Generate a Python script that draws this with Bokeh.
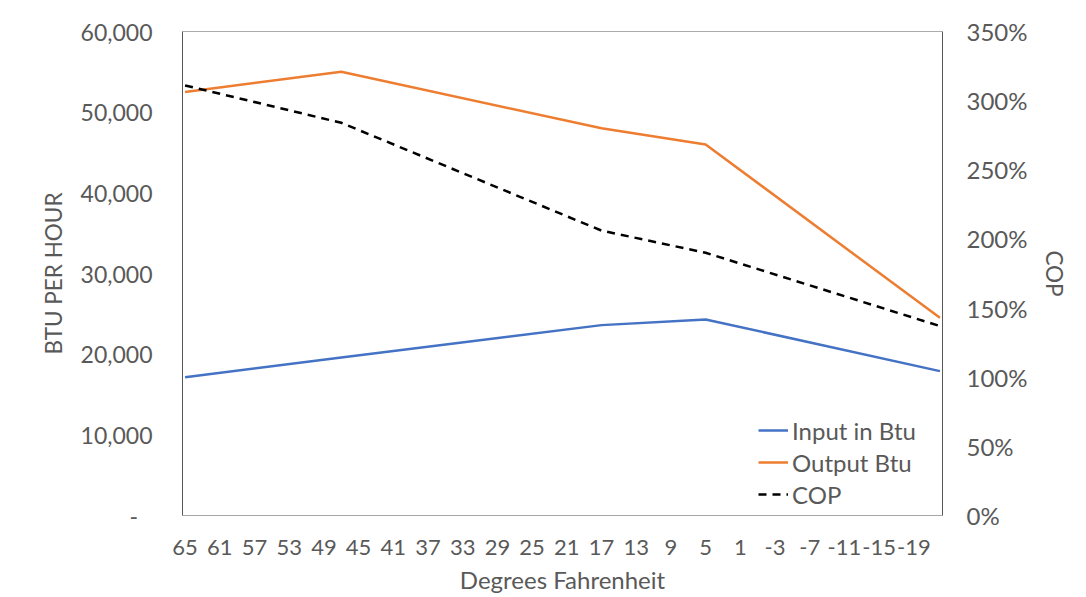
from bokeh.plotting import figure
from bokeh.models import (Range1d, LinearAxis, Span, Legend, LegendItem,
                          FixedTicker, NumeralTickFormatter)
from bokeh.embed import file_html
from bokeh.resources import INLINE

# Data
temps = [65, 47, 17, 5, -22]                 # degrees Fahrenheit
input_btu = [17150, 19600, 23600, 24300, 17900]
output_btu = [52500, 55000, 48000, 46000, 24500]
cop = [3.11, 2.84, 2.06, 1.90, 1.37]         # fraction (1.0 = 100%)

x_ticks = [65, 61, 57, 53, 49, 45, 41, 37, 33, 29, 25, 21, 17, 13, 9, 5, 1,
           -3, -7, -11, -15, -19]
y_ticks = [0, 10000, 20000, 30000, 40000, 50000, 60000]
cop_ticks = [0, 0.5, 1.0, 1.5, 2.0, 2.5, 3.0, 3.5]

FONT = "Lato"
TXT = "#595959"

p = figure(width=1084, height=596,
           x_range=Range1d(65.3, -22.3), y_range=Range1d(0, 60000),
           output_backend="svg", toolbar_location=None,
           min_border_left=182, min_border_right=142,
           min_border_top=31, min_border_bottom=80)
p.outline_line_color = None
p.xgrid.visible = False
p.ygrid.visible = False
p.background_fill_color = "white"
p.border_fill_color = "white"

p.extra_y_ranges = {"cop": Range1d(0, 3.5)}

r_in = p.line(temps, input_btu, line_color="#4472C4", line_width=2.5)
r_out = p.line(temps, output_btu, line_color="#ED7D31", line_width=2.5)
r_cop = p.line(temps, cop, y_range_name="cop", line_color="black",
               line_width=2.5, line_dash="8 6")

# x axis
xa = p.xaxis[0]
xa.ticker = FixedTicker(ticks=x_ticks)
xa.major_label_overrides = {t: str(t) for t in x_ticks if t < 0}
xa.axis_line_color = "#A6A6A6"
xa.axis_label = "Degrees Fahrenheit"
xa.major_label_standoff = 24
xa.axis_label_standoff = 7

# left axis
ya = p.yaxis[0]
ya.ticker = FixedTicker(ticks=y_ticks)
ya.formatter = NumeralTickFormatter(format="0,0")
ya.major_label_overrides = {0: "-\u2002\u2009"}
ya.axis_label = "BTU PER HOUR"
ya.axis_line_color = "#595959"
ya.major_label_standoff = 30
ya.axis_label_standoff = 11

# right axis
ra = LinearAxis(y_range_name="cop", ticker=FixedTicker(ticks=cop_ticks),
                formatter=NumeralTickFormatter(format="0%"))
ra.axis_line_color = "#595959"
ra.axis_label = "COP"
ra.axis_label_orientation = "vertical"
ra.major_label_standoff = 24
ra.axis_label_standoff = 11
p.add_layout(ra, "right")

for ax in (xa, ya, ra):
    ax.major_tick_line_color = None
    ax.minor_tick_line_color = None
    ax.major_tick_out = 0
    ax.major_tick_in = 0
    ax.minor_tick_out = 0
    ax.major_label_text_font = FONT
    ax.major_label_text_color = TXT
    ax.axis_label_text_font = FONT
    ax.axis_label_text_color = TXT
    ax.axis_label_text_font_style = "normal"
    ax.axis_label_text_font_size = "22.5px"
xa.axis_label_text_font_size = "24px"
xa.major_label_text_font_size = "22px"
ya.major_label_text_font_size = "23px"
ra.major_label_text_font_size = "24px"

p.add_layout(Span(location=60000, dimension="width", line_color="#595959",
                  line_width=1))

legend = Legend(items=[LegendItem(label="Input in Btu", renderers=[r_in]),
                       LegendItem(label="Output Btu", renderers=[r_out]),
                       LegendItem(label="COP", renderers=[r_cop])],
                location=(576, 5), orientation="vertical",
                background_fill_alpha=0, border_line_color=None,
                padding=0, margin=0, spacing=0,
                glyph_width=30, glyph_height=32, label_height=32,
                label_standoff=4, label_text_font=FONT,
                label_text_font_size="24px", label_text_color=TXT)
p.add_layout(legend)

open("out.html", "w").write(file_html(p, INLINE))
